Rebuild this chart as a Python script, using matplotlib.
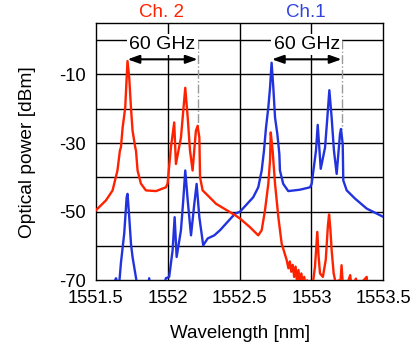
import matplotlib
matplotlib.use("Agg")
import matplotlib.pyplot as plt

plt.rcParams["font.family"] = ["Liberation Sans", "DejaVu Sans"]

# Ch.1 spectrum (blue), wavelength [nm] / power [dBm]
ch1_wl = [1551.60, 1551.64, 1551.66, 1551.674, 1551.697, 1551.714, 1551.72, 1551.732,
          1551.744, 1551.755, 1551.774, 1551.79, 1551.86, 1551.871, 1551.88, 1551.97,
          1551.987, 1552.01, 1552.034, 1552.048, 1552.062, 1552.092, 1552.108, 1552.122,
          1552.139, 1552.162, 1552.185, 1552.201, 1552.22, 1552.247, 1552.278, 1552.324,
          1552.364, 1552.468, 1552.503, 1552.595, 1552.63, 1552.654, 1552.67, 1552.684,
          1552.70, 1552.712, 1552.723, 1552.735, 1552.747, 1552.763, 1552.777, 1552.781,
          1552.804, 1552.839, 1552.92, 1552.99, 1553.002, 1553.032, 1553.044, 1553.065,
          1553.095, 1553.111, 1553.125, 1553.141, 1553.157, 1553.176, 1553.199, 1553.206,
          1553.218, 1553.222, 1553.246, 1553.304, 1553.385, 1553.505]
ch1_db = [-73, -69.4, -72, -65, -56.4, -45.8, -44.8, -51.6,
          -59.3, -63.2, -68, -72, -73, -69.4, -73, -72,
          -69.4, -69, -61.2, -51.6, -63.2, -55.4, -46.7, -38,
          -46.7, -56.9, -47.7, -41.9, -51.6, -59.8, -57.8, -56.9,
          -55.4, -50.6, -50, -45.8, -42.9, -38, -32.2, -25.5,
          -19.7, -13.9, -6.6, -13.9, -22.6, -27.4, -33.2, -38,
          -41.9, -44, -43.6, -42.9, -41.9, -32.2, -24.7, -37.5,
          -31.3, -22.6, -14.6, -22.6, -32.2, -39, -27.4, -25.9,
          -30.3, -40.9, -43.8, -46.2, -49.1, -51.6]

# Ch.2 spectrum (red)
ch2_wl = [1551.50, 1551.57, 1551.616, 1551.65, 1551.667, 1551.674, 1551.686, 1551.704,
          1551.714, 1551.72, 1551.732, 1551.744, 1551.755, 1551.774, 1551.779, 1551.79,
          1551.813, 1551.848, 1551.918, 1551.987, 1551.999, 1552.022, 1552.045, 1552.057,
          1552.092, 1552.108, 1552.122, 1552.139, 1552.155, 1552.173, 1552.196, 1552.208,
          1552.22, 1552.225, 1552.243, 1552.289, 1552.336, 1552.468, 1552.503, 1552.572,
          1552.63, 1552.654, 1552.677, 1552.70, 1552.712, 1552.717, 1552.73, 1552.747,
          1552.77, 1552.793, 1552.828, 1552.84, 1552.85, 1552.86, 1552.87, 1552.88,
          1552.89, 1552.90, 1552.91, 1552.92, 1552.93, 1552.94, 1552.95, 1552.96,
          1552.97, 1552.99, 1553.01, 1553.025, 1553.041, 1553.05, 1553.06, 1553.08,
          1553.10, 1553.115, 1553.123, 1553.132, 1553.141, 1553.155, 1553.17, 1553.19,
          1553.20, 1553.21, 1553.22, 1553.25, 1553.27, 1553.28, 1553.31, 1553.32,
          1553.385, 1553.39, 1553.50]
ch2_db = [-49.6, -46.7, -43.8, -38, -32.2, -31.3, -25.5, -19.7,
          -11, -6.1, -11, -19.7, -26.4, -31.3, -32.2, -38,
          -41.8, -43.8, -44, -42.9, -41.8, -31.3, -24, -36.1,
          -28.4, -20.6, -13.9, -22.6, -32.2, -38, -26.4, -25,
          -28.4, -40, -43.8, -45.7, -47.7, -51, -52, -54.5,
          -56.9, -55.4, -49.6, -41.9, -35.1, -26.9, -32.2, -41.9,
          -51.6, -59.3, -64.1, -66.5, -64.5, -67.5, -65.5, -69,
          -66, -70.5, -67, -71, -68, -71, -69, -72,
          -70, -72, -71, -66, -55.9, -63, -68, -69,
          -64, -54, -50.8, -55, -61.2, -68, -71, -70,
          -72, -65.6, -72, -71, -68.5, -72, -69.5, -72,
          -69, -72, -73]

# 60 GHz spacing markers (start, end of arrow) and labels
spacing_ch2 = (1551.72, 1552.208)
spacing_ch1 = (1552.725, 1553.21)
peak_ch2 = -25
peak_ch1 = -26

fig = plt.figure(figsize=(4.17, 3.45), dpi=100)
ax = fig.add_axes([0.230, 0.1875, 0.689, 0.746])

ax.plot(ch1_wl, ch1_db, color="#2233dd", lw=1.7, zorder=3)
ax.plot(ch2_wl, ch2_db, color="#ff2200", lw=1.7, zorder=4)

ax.set_xlim(1551.5, 1553.5)
ax.set_ylim(-70, 5)

ax.set_xticks([1551.5, 1552, 1552.5, 1553, 1553.5])
ax.set_xticklabels(["1551.5", "1552", "1552.5", "1553", "1553.5"], fontsize=13.2)
ax.set_yticks([-10, -30, -50, -70])
ax.set_yticklabels(["-10", "-30", "-50", "-70"], fontsize=13.2)
ax.tick_params(which="major", length=0, pad=7)
ax.set_xticks([1552, 1552.5, 1553], minor=True)
ax.tick_params(which="minor", top=True, bottom=False, direction="out", length=3, width=1)

for v in [1552, 1552.5, 1553]:
    ax.axvline(v, color="black", lw=1, zorder=1)
for h in [0, -10, -20, -30, -40, -50, -60]:
    ax.axhline(h, color="black", lw=1, zorder=1)
for s in ax.spines.values():
    s.set_linewidth(1)

ax.set_xlabel("Wavelength [nm]", fontsize=13.5, labelpad=13)
ax.set_ylabel("Optical power [dBm]", fontsize=13.8, labelpad=17)

for (x0, x1), pk in ((spacing_ch2, peak_ch2), (spacing_ch1, peak_ch1)):
    ax.plot([x1, x1], [0, pk], color="#999999", lw=1, ls="-.", zorder=2)
    ax.annotate("", xy=(x0, -5.6), xytext=(x1, -5.6),
                arrowprops=dict(arrowstyle="<|-|>,head_length=0.7,head_width=0.25",
                                color="black", lw=1.5, shrinkA=0, shrinkB=0), zorder=5)
    ax.text((x0 + x1) / 2, -1.2, "60 GHz", fontsize=14, ha="center", va="center",
            bbox=dict(facecolor="white", edgecolor="none", pad=1.5), zorder=5)

fig.text(161.7 / 417, 1 - 12.5 / 345, "Ch. 2", color="#ff2200", fontsize=13.5,
         ha="center", va="center")
fig.text(306 / 417, 1 - 12.5 / 345, "Ch.1", color="#3344dd", fontsize=13.5,
         ha="center", va="center")

fig.savefig("out.png", dpi=100)
